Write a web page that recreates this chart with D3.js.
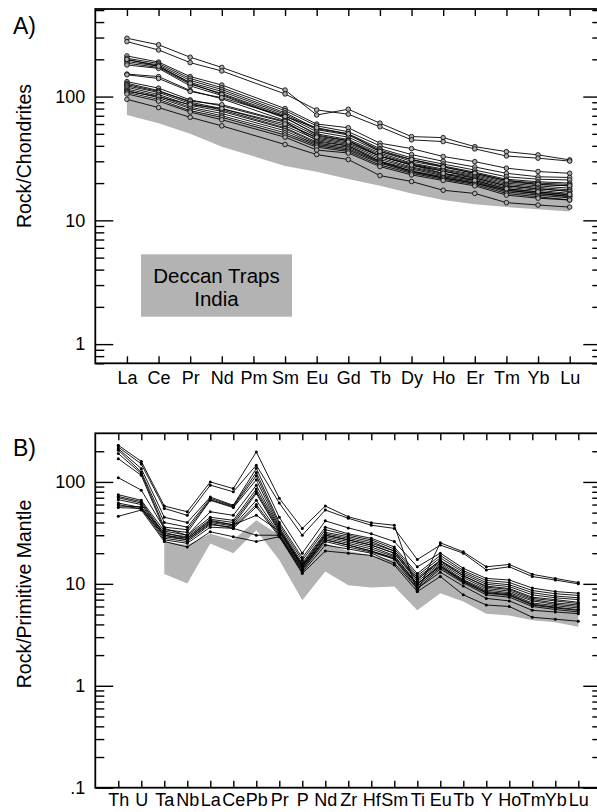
<!DOCTYPE html>
<meta charset="utf-8">
<style>
  body { margin: 0; background: #fff; }
  text { font-family: "Liberation Sans", Arial, sans-serif; fill: #000; }
</style>
<body>
<div class="chart"></div>
<script src="https://cdn.jsdelivr.net/npm/d3@7"></script>
<script>

// ---- panel A : REE / chondrite ----
const reeElements = ["La","Ce","Pr","Nd","Pm","Sm","Eu","Gd","Tb","Dy","Ho","Er","Tm","Yb","Lu"];
const reeSamples = [
  [296,262,208,172,null,113,71,79,61,47.5,46.6,39.4,35.9,33.8,30.8],
  [278,238,188,161,null,105,78,72,57,44.7,43.3,37.8,33.1,31.8,30.1],
  [213,190,145,124,null,80,60,56,42,38,32.8,29.8,26.4,24.8,24],
  [204,185,140,118,null,77,58,52,40,34,30,27,24,22.5,22.2],
  [198,180,135,114,null,74,55,50,38,32,28.5,25.5,22.5,21.5,21.2],
  [192,176,130,110,null,72,54,49,37,31,27.5,24.5,21.5,20.5,20],
  [186,172,126,106,null,70,52,47,36,30,27,24,21,20,19.5],
  [180,169,122,102,null,67,50,45,35,29,26,23.5,20.5,19.5,19],
  [200,176,128,104,null,68,49,44,33,28,25,22,19,18,17.2],
  [152,145,112,96,null,64,48,44,34,28.5,25.5,23,20,19,18.2],
  [150,140,110,98,null,69,56,50,36,31,27,24,21,19.5,19],
  [132,117,94,84,null,62,46,42,33,28,25,22.5,19.5,18.5,17.6],
  [128,112,90,80,null,58,45,41,32,27,24,22,19,18,17.1],
  [125,110,92,86,null,63,44,40,30,25,22,20,17.5,16.5,15.6],
  [122,108,88,78,null,56,43,40,31,26.5,23.5,21.5,18.5,17.5,16.5],
  [119,104,85,76,null,55,42,39,30,26,23,21,18,17,16],
  [115,101,82,73,null,53,41,38,29.5,25,22.5,20.5,17.5,16.5,15.6],
  [112,98,80,70,null,51,40,37,29,24.5,22,20,17,16,15.2],
  [110,100,86,80,null,60,47,43,33,28,24,21,18,17,16.2],
  [108,95,77,68,null,49,39,36,28,24,21.5,19.5,16.5,15.5,14.6],
  [105,92,75,65,null,47,37,35,27.2,23.3,21,19,16,15.1,14.6],
  [95,81.5,68,58,null,41,34,31,23,20.6,17.5,16.5,13.9,13.3,12.8]
];
const reeFieldUpper = [106,93,78,68,null,50,43,38,30,26,23,21,18,17,16];
const reeFieldLower = [71,61,50,39.4,null,27.5,24.7,21.6,19,16.5,14.6,13.5,12.8,12.3,11.8];

// ---- panel B : spider / primitive mantle ----
const spiderElements = ["Th","U","Ta","Nb","La","Ce","Pb","Pr","P","Nd","Zr","Hf","Sm","Ti","Eu","Tb","Y","Ho","Tm","Yb","Lu"];
const spiderSamples = [
  [229,159,58,51,100,86,197,69,35,58,45.5,39.7,37.6,8.4,25.3,20.6,14.7,15.5,12.4,11.3,10.3],
  [220,150,55,47,93,80,146,62,30,53,44,37.6,35,17.3,24,20,13.7,14.7,11.8,10.9,10.0],
  [212,135,45,40,71,59,136,45,20,41.5,35.4,31,26,14.7,20,14.2,11.3,10.9,9.1,8.4,8.1],
  [205,125,40,36,69,58,124,40,18,36,31,28,23,12.6,19,13.5,10.8,10.3,8.6,8.0,7.7],
  [190,121,36,34,67,57,115,38,17,34,30,27,22,12,18,13,10.3,9.8,8.2,7.6,7.3],
  [169,116,34,32,66,56,105,36,16,32,29,26,21,11.5,17,12.5,9.9,9.4,7.8,7.3,7.0],
  [110,83,35,30,51,47,93,35,15,30,27,24,20,11,16.5,12,9.5,9,7.4,7,6.6],
  [75,66,33,30,45,42,85,34,15.5,31,28,25,21,11,17,12,9.3,8.8,7.2,6.8,6.4],
  [72,64,31,29,43,40,80,33,15,30,27,24,20,10.5,16,11.5,9,8.5,7,6.5,6.2],
  [70,62,30,28,42,38,77,32,14.5,29,26,23,19,10,15.5,11,8.7,8.2,6.8,6.3,6.0],
  [67,60,29,27,40,37,66,31,14,28,25,22,18.5,10,15,10.8,8.4,8,6.5,6.1,5.8],
  [62,56,32,28,41,38,47,33,15,27,24,21,17.5,10,15,10.5,8.2,7.8,6.3,5.9,5.6],
  [60,54,30,27,39,35,30,30,13,24,22,20,16,9,13,9.5,7.2,6.8,5.5,5.3,5.1],
  [58,57,28,26,38,36,60,30,14,27,24,21,18,9.5,14.5,10.5,8.1,7.7,6.2,5.8,5.5],
  [56,55,27,25,36,35,57,29,13.5,26,23,20.5,17.5,9,14,10.2,7.8,7.4,6,5.6,5.3],
  [46,53,26,23,32.4,29,26,29,12.6,21,20,19,15.3,8.4,11.8,7.8,6.2,6.0,4.7,4.5,4.3]
];
const spiderFieldUpper = [null,null,26,24,31,27,42,30,16,25,21,19,17,10,15,11,8.5,8,6.5,6,5.5];
const spiderFieldLower = [null,null,12.5,10.1,24.9,20,33.6,17.1,6.9,13.2,9.7,9.2,9.4,5.5,8.1,6.7,5.1,4.9,4.4,4.2,3.8];

const grey = "#b3b3b3";
const width = 597, height = 812;

const svg = d3.select(".chart").append("svg")
  .attr("width", width)
  .attr("height", height);

function logMinors(lo, hi) {
  let out = [];
  for (let d = Math.pow(10, Math.floor(Math.log10(lo))); d < hi; d *= 10) {
    for (let m = 2; m <= 9; m++) {
      let v = m * d;
      if (v > lo && v < hi) out.push(v);
    }
  }
  return out;
}

function panel(opt) {
  const left = 95.3, right = 601.3;
  const x = d3.scalePoint().domain(opt.elements).range([left, right]).padding(1);
  const y = d3.scaleLog().domain(opt.yDomain).range([opt.bottom, opt.top]);
  const g = svg.append("g");

  // grey field
  const fieldPts = opt.elements.map((e, i) => ({e, lo: opt.fieldLower[i], hi: opt.fieldUpper[i]}))
    .filter(d => d.lo != null);
  g.append("path")
    .datum(fieldPts)
    .attr("fill", grey)
    .attr("d", d3.area().x(d => x(d.e)).y0(d => y(d.lo)).y1(d => y(d.hi)));

  // sample lines
  const line = d3.line().x(d => x(d.e)).y(d => y(d.v));
  const series = opt.samples.map(s => opt.elements.map((e, i) => ({e, v: s[i]})).filter(d => d.v != null));

  g.append("g")
    .attr("fill", "none")
    .attr("stroke", "#000")
    .attr("stroke-width", 0.9)
    .selectAll("path")
    .data(series)
    .join("path")
    .attr("d", line);

  const pts = g.append("g").selectAll("circle")
    .data(series.flat())
    .join("circle")
    .attr("cx", d => x(d.e))
    .attr("cy", d => y(d.v));
  if (opt.openMarkers) {
    pts.attr("r", 2.3).attr("fill", "#aaa").attr("stroke", "#000").attr("stroke-width", 0.8);
  } else {
    pts.attr("r", 1.5).attr("fill", "#000");
  }

  // axes
  const majors = opt.majors;
  const minors = logMinors(opt.yDomain[0], opt.yDomain[1]);

  g.append("g").attr("transform", `translate(${left},0)`)
    .call(d3.axisLeft(y).tickValues(majors).tickFormat(opt.fmt).tickSizeInner(-18).tickSizeOuter(0).tickPadding(10));
  g.append("g").attr("transform", `translate(${left},0)`)
    .call(d3.axisLeft(y).tickValues(minors).tickFormat("").tickSizeInner(-9).tickSizeOuter(0));
  g.append("g").attr("transform", `translate(${right},0)`)
    .call(d3.axisRight(y).tickValues(majors).tickFormat("").tickSizeInner(-18).tickSizeOuter(0));
  g.append("g").attr("transform", `translate(${right},0)`)
    .call(d3.axisRight(y).tickValues(minors).tickFormat("").tickSizeInner(-9).tickSizeOuter(0));
  g.append("g").attr("transform", `translate(0,${opt.top})`)
    .call(d3.axisTop(x).tickFormat("").tickSizeInner(-7).tickSizeOuter(0));
  g.append("g").attr("transform", `translate(0,${opt.bottom})`)
    .call(d3.axisBottom(x).tickSizeInner(-7).tickSizeOuter(0).tickPadding(opt.xPad));

  g.selectAll(".domain").remove();
  g.selectAll(".tick line").attr("stroke", "#000").attr("stroke-width", 1.4);
  g.selectAll(".tick text").style("font-size", "18px").attr("fill", "#000");

  // frame
  g.append("rect")
    .attr("x", left).attr("y", opt.top)
    .attr("width", right - left).attr("height", opt.bottom - opt.top)
    .attr("fill", "none").attr("stroke", "#000").attr("stroke-width", 1.8);

  // titles
  g.append("text")
    .attr("transform", `translate(${opt.yLabelX},${opt.yLabelY}) rotate(-90)`)
    .attr("text-anchor", "middle")
    .style("font-size", "19.5px")
    .text(opt.yLabel);
  g.append("text")
    .attr("x", 13).attr("y", opt.tagY)
    .style("font-size", "23px")
    .text(opt.tag);

  return {g, x, y};
}

const a = panel({
  elements: reeElements, samples: reeSamples,
  fieldUpper: reeFieldUpper, fieldLower: reeFieldLower,
  yDomain: [0.7, 510], top: 9, bottom: 363.3,
  majors: [1, 10, 100], fmt: d3.format("d"),
  xPad: 8, openMarkers: true,
  yLabel: "Rock/Chondrites", yLabelX: 31, yLabelY: 156,
  tag: "A)", tagY: 34
});

// legend box
a.g.append("rect")
  .attr("x", 141).attr("y", 254.3).attr("width", 151).attr("height", 62.4)
  .attr("fill", grey);
a.g.append("text")
  .attr("x", 216.5).attr("y", 283).attr("text-anchor", "middle")
  .style("font-size", "20.5px").text("Deccan Traps");
a.g.append("text")
  .attr("x", 216.5).attr("y", 305.5).attr("text-anchor", "middle")
  .style("font-size", "20.5px").text("India");

panel({
  elements: spiderElements, samples: spiderSamples,
  fieldUpper: spiderFieldUpper, fieldLower: spiderFieldLower,
  yDomain: [0.1, 300], top: 433.3, bottom: 787.7,
  majors: [0.1, 1, 10, 100], fmt: d => d < 1 ? ".1" : d3.format("d")(d),
  xPad: 6, openMarkers: false,
  yLabel: "Rock/Primitive Mantle", yLabelX: 31, yLabelY: 594,
  tag: "B)", tagY: 456
});

</script>
